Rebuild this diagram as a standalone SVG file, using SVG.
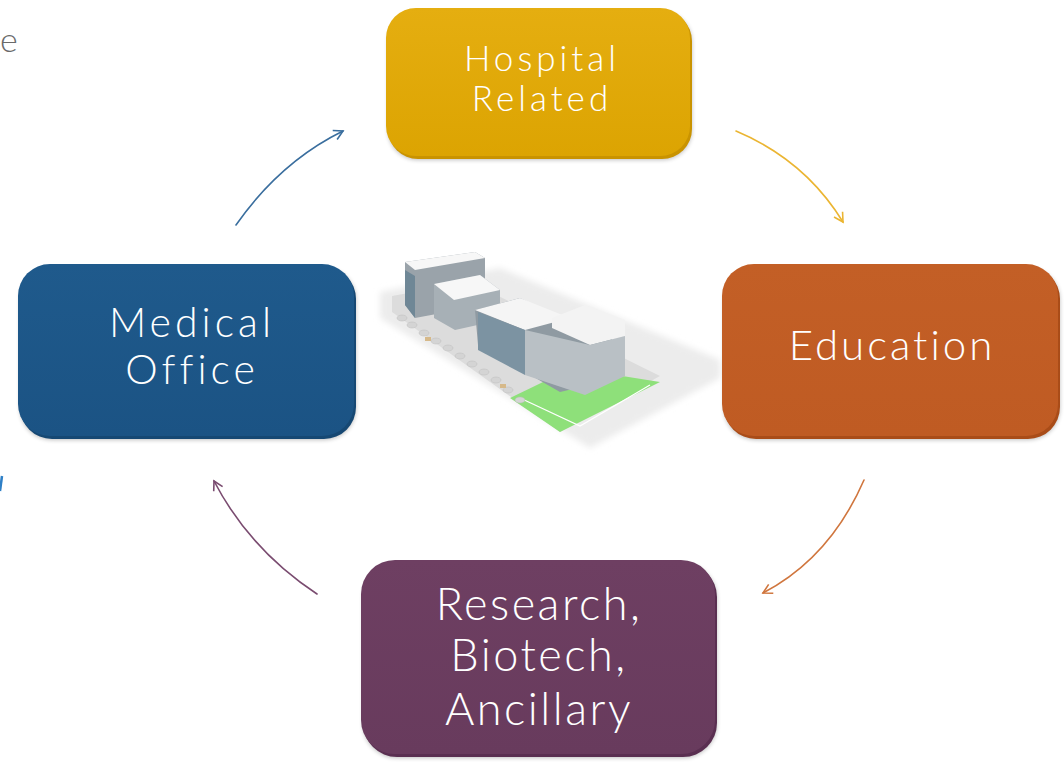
<svg xmlns="http://www.w3.org/2000/svg" width="1064" height="763" viewBox="0 0 1064 763">
<defs>
<style>
.lbl{font-family:Lato,"Open Sans","Liberation Sans",sans-serif;font-weight:300;fill:#ffffff;text-anchor:middle}
.conn{fill:none;stroke-width:1.6;stroke-linecap:round}
</style>
<linearGradient id="gY" x1="0" y1="0" x2="0" y2="1"><stop offset="0" stop-color="#E5AE10"/><stop offset="1" stop-color="#DCA402"/></linearGradient>
<linearGradient id="gB" x1="0" y1="0" x2="0" y2="1"><stop offset="0" stop-color="#1F5A8C"/><stop offset="1" stop-color="#1B5384"/></linearGradient>
<linearGradient id="gO" x1="0" y1="0" x2="0" y2="1"><stop offset="0" stop-color="#C35F26"/><stop offset="1" stop-color="#BF5B23"/></linearGradient>
<linearGradient id="gP" x1="0" y1="0" x2="0" y2="1"><stop offset="0" stop-color="#6E3F62"/><stop offset="1" stop-color="#683B5D"/></linearGradient>
<filter id="sh" x="-10%" y="-10%" width="120%" height="130%"><feGaussianBlur stdDeviation="3"/></filter>
<filter id="bs" x="-5%" y="-5%" width="110%" height="115%"><feGaussianBlur stdDeviation="2"/></filter>
<marker id="mB" markerWidth="14" markerHeight="14" refX="10" refY="6" orient="auto" markerUnits="userSpaceOnUse"><path d="M1,1 L10,6 L1,11" fill="none" stroke="#3A6E9E" stroke-width="1.6"/></marker>
<marker id="mY" markerWidth="14" markerHeight="14" refX="10" refY="6" orient="auto" markerUnits="userSpaceOnUse"><path d="M1,1 L10,6 L1,11" fill="none" stroke="#EBB532" stroke-width="1.6"/></marker>
<marker id="mO" markerWidth="14" markerHeight="14" refX="10" refY="6" orient="auto" markerUnits="userSpaceOnUse"><path d="M1,1 L10,6 L1,11" fill="none" stroke="#D0763E" stroke-width="1.6"/></marker>
<marker id="mP" markerWidth="14" markerHeight="14" refX="10" refY="6" orient="auto" markerUnits="userSpaceOnUse"><path d="M1,1 L10,6 L1,11" fill="none" stroke="#7A4C70" stroke-width="1.6"/></marker>
</defs>
<rect width="1064" height="763" fill="#ffffff"/>
<text x="0" y="52" font-family="Lato,'Liberation Sans',sans-serif" font-weight="300" font-size="34" fill="#6a6a6a">e</text>
<line x1="2" y1="476" x2="0" y2="491" stroke="#2E7FC6" stroke-width="2.5"/>

<g id="building">
<polygon points="380,292 500,268 720,360 720,378 590,448 380,318" fill="#ececec" filter="url(#sh)"/>
<polygon points="392,296 470,282 660,376 560,432 392,312" fill="#dcdcdc"/>
<polygon points="572,368 660,382 560,432 510,398" fill="#8EE07A"/>
<polyline points="520,398 580,426 650,385" fill="none" stroke="#ffffff" stroke-width="1.2"/>
<polygon points="405,262 475,252 485,258 485,305 415,318 405,305" fill="#9aa3aa"/>
<polygon points="405,262 475,252 485,258 415,270" fill="#f7f7f7"/>
<polygon points="405,270 415,276 415,318 405,305" fill="#6f8796"/>
<polygon points="434,284 480,275 500,290 500,320 455,330 434,318" fill="#a7b0b6"/>
<polygon points="434,284 480,275 500,290 454,300" fill="#f7f7f7"/>
<polygon points="475,310 520,298 560,318 610,330 620,378 560,392 478,345" fill="#8f9aa2"/>
<polygon points="475,310 520,298 570,318 525,330" fill="#f5f5f5"/>
<polygon points="552,318 585,305 625,320 625,336 590,345 552,328" fill="#f3f3f3"/>
<polygon points="525,330 590,345 625,336 625,376 585,395 525,375" fill="#b9c0c5"/>
<polygon points="478,312 525,330 525,375 478,350" fill="#7c93a2"/>
<g fill="#d4d4d4" stroke="#bdbdbd" stroke-width="0.5">
<ellipse cx="402" cy="318" rx="5" ry="3"/><ellipse cx="412" cy="325" rx="5" ry="3"/><ellipse cx="424" cy="333" rx="5" ry="3"/><ellipse cx="436" cy="341" rx="5" ry="3"/><ellipse cx="448" cy="348" rx="5" ry="3"/><ellipse cx="460" cy="356" rx="5" ry="3"/><ellipse cx="472" cy="364" rx="5" ry="3"/><ellipse cx="484" cy="372" rx="5" ry="3"/><ellipse cx="496" cy="380" rx="5" ry="3"/><ellipse cx="508" cy="390" rx="5" ry="3"/><ellipse cx="520" cy="400" rx="5" ry="3"/>
</g>
<rect x="425" y="337" width="6" height="4" fill="#d6b98a"/><rect x="500" y="384" width="6" height="4" fill="#d6b98a"/>
</g>

<g id="n-hospital">
<rect x="388" y="12" width="304" height="148" rx="30" fill="#000" opacity="0.25" filter="url(#bs)"/>
<rect x="388" y="11" width="304" height="148" rx="30" fill="#C99300"/>
<rect x="386" y="8" width="304" height="148" rx="30" fill="url(#gY)"/>
<text class="lbl" font-size="35" letter-spacing="4"><tspan x="542" y="71">Hospital</tspan><tspan x="542" y="111">Related</tspan></text>
</g>

<g id="n-education">
<rect x="724" y="268" width="336" height="172" rx="32" fill="#000" opacity="0.25" filter="url(#bs)"/>
<rect x="724" y="267" width="336" height="172" rx="32" fill="#A94C18"/>
<rect x="722" y="264" width="336" height="172" rx="32" fill="url(#gO)"/>
<text class="lbl" x="892" y="360" font-size="42" letter-spacing="3">Education</text>
</g>

<g id="n-research">
<rect x="363" y="564" width="354" height="194" rx="34" fill="#000" opacity="0.25" filter="url(#bs)"/>
<rect x="363" y="563" width="354" height="194" rx="34" fill="#5A2F51"/>
<rect x="361" y="560" width="354" height="194" rx="34" fill="url(#gP)"/>
<text class="lbl" font-size="45" letter-spacing="2.5"><tspan x="539" y="620">Research,</tspan><tspan x="539" y="671">Biotech,</tspan><tspan x="539" y="725">Ancillary</tspan></text>
</g>

<g id="n-medical">
<rect x="20" y="268" width="336" height="172" rx="32" fill="#000" opacity="0.25" filter="url(#bs)"/>
<rect x="20" y="267" width="336" height="172" rx="32" fill="#164873"/>
<rect x="18" y="264" width="336" height="172" rx="32" fill="url(#gB)"/>
<text class="lbl" font-size="41" letter-spacing="4"><tspan x="192" y="337">Medical</tspan><tspan x="192" y="384">Office</tspan></text>
</g>

<g id="connectors">
<path class="conn" d="M236,225 Q280,162 343,131" stroke="#3A6E9E" marker-end="url(#mB)"/>
<path class="conn" d="M736,131 Q805,160 843,222" stroke="#EBB532" marker-end="url(#mY)"/>
<path class="conn" d="M864,480 Q830,558 763,593" stroke="#D0763E" marker-end="url(#mO)"/>
<path class="conn" d="M317,594 Q250,550 214,481" stroke="#7A4C70" marker-end="url(#mP)"/>
</g>
</svg>
